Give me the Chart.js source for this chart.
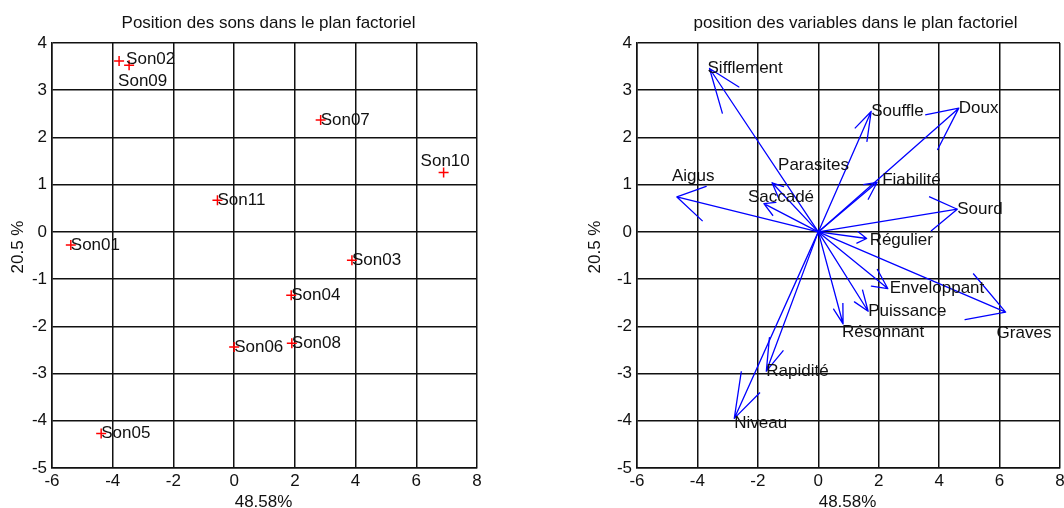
<!DOCTYPE html>
<html>
<head>
<meta charset="utf-8">
<script src="https://cdn.jsdelivr.net/npm/chart.js@4.4.1/dist/chart.umd.min.js"></script>
<style>
  html, body { margin: 0; padding: 0; background: #fff; }
  #wrap { position: relative; width: 1064px; height: 508px; overflow: hidden; }
  canvas { position: absolute; top: 0; }
  #sons { left: 0; }
  #vars { left: 532px; }
</style>
</head>
<body>
<div id="wrap">
  <canvas id="sons" width="532" height="508"></canvas>
  <canvas id="vars" width="532" height="508"></canvas>
</div>
<script>
// axes, shared by both plots
const xTicks = [-6, -4, -2, 0, 2, 4, 6, 8];
const yTicks = [-5, -4, -3, -2, -1, 0, 1, 2, 3, 4];
const xTitle = '48.58%';
const yTitle = '20.5 %';

// individuals (sounds)
const sonNames = ['Son01', 'Son02', 'Son03', 'Son04', 'Son05', 'Son06', 'Son07', 'Son08', 'Son09', 'Son10', 'Son11'];
const sonX = [-5.38, -3.46, 3.88, 1.88, -4.38, 0.0, 2.85, 1.9, -3.79, 6.9, -0.55];
const sonY = [-0.28, 3.53, -0.6, -1.34, -4.27, -2.44, 2.37, -2.36, 3.62, 1.26, 0.67];

// variables (arrow tips)
const varNames = ['Sifflement', 'Souffle', 'Doux', 'Parasites', 'Aigus', 'Saccadé', 'Fiabilité', 'Sourd',
  'Régulier', 'Enveloppant', 'Graves', 'Puissance', 'Résonnant', 'Rapidité', 'Niveau'];
const varX = [-3.6, 1.75, 4.65, -1.53, -4.68, -1.8, 1.95, 4.6, 1.6, 2.3, 6.2, 1.65, 0.82, -1.72, -2.78];
const varY = [3.46, 2.55, 2.62, 1.04, 0.74, 0.6, 1.05, 0.48, -0.14, -1.2, -1.7, -1.68, -1.95, -2.95, -3.95];

// label nudges in pixels (where the text was moved off its point)
const sonShift = { Son02: [-3, -6], Son09: [-1, 20], Son10: [-23, -11] };
const varShift = {
  Sifflement: [-2, 0], Parasites: [6, -17], Aigus: [-5, -21], 'Saccadé': [-16, -6], 'Fiabilité': [5, -2],
  'Régulier': [3, 2], Enveloppant: [2, 0], Graves: [-9, 21], 'Résonnant': [-1, 8], Niveau: [0, 5]
};

const FONT = '"Liberation Sans", Arial, sans-serif';
const INK = '#111';

function axes(yWidth) {
  const grid = { color: INK, lineWidth: 1.5, drawTicks: false };
  const border = { color: INK, width: 1.5 };
  const ticks = { color: INK, font: { family: FONT, size: 17, lineHeight: 1 }, autoSkip: false, maxRotation: 0, callback: v => String(v) };
  return {
    x: {
      type: 'linear', min: xTicks[0], max: xTicks[xTicks.length - 1],
      afterBuildTicks: s => { s.ticks = xTicks.map(v => ({ value: v })); },
      // end labels may hang out of the box, as in the original
      afterFit: s => { s.height = 40; s.paddingLeft = 0; s.paddingRight = 0; },
      grid, border, ticks: Object.assign({ padding: 5 }, ticks)
    },
    y: {
      type: 'linear', min: yTicks[0], max: yTicks[yTicks.length - 1],
      afterBuildTicks: s => { s.ticks = yTicks.map(v => ({ value: v })); },
      afterFit: s => { s.width = yWidth; },
      grid, border, ticks: Object.assign({ padding: 5 }, ticks)
    }
  };
}

// titles and point labels
const annot = {
  id: 'annot',
  afterDatasetsDraw(chart, args, o) {
    const ctx = chart.ctx, a = chart.chartArea;
    const xs = chart.scales.x, ys = chart.scales.y;
    const mid = (a.left + a.right) / 2;
    ctx.save();
    ctx.fillStyle = INK;
    ctx.font = '17px ' + FONT;
    ctx.textAlign = 'center';
    ctx.textBaseline = 'alphabetic';
    ctx.fillText(o.title, mid + o.titleDx, 28);
    ctx.fillText(xTitle, mid - 1, 507);
    ctx.save();
    ctx.translate(o.yTitleX, 247);
    ctx.rotate(-Math.PI / 2);
    ctx.textBaseline = 'middle';
    ctx.fillText(yTitle, 0, 0);
    ctx.restore();

    ctx.textAlign = 'left';
    ctx.textBaseline = 'middle';
    o.names.forEach((n, i) => {
      const d = o.shift[n] || [0, 0];
      ctx.fillText(n, xs.getPixelForValue(o.xs[i]) + d[0], ys.getPixelForValue(o.ys[i]) + d[1]);
    });
    ctx.restore();
  }
};

// arrow from origin with a two-stroke head, head built in data units
function arrowPath(x, y) {
  const len = Math.hypot(x, y) * 0.21;
  const back = Math.atan2(-y, -x);
  const a = 22 * Math.PI / 180;
  const head = s => ({ x: x + len * Math.cos(back + s * a), y: y + len * Math.sin(back + s * a) });
  return [{ x: 0, y: 0 }, { x, y }, head(1), { x, y }, head(-1)];
}

new Chart(document.getElementById('sons'), {
  type: 'scatter',
  data: {
    datasets: [{
      data: sonX.map((x, i) => ({ x, y: sonY[i] })),
      pointStyle: 'cross', pointRadius: 5, borderColor: '#ff0000', borderWidth: 1.5,
      pointHoverRadius: 5
    }]
  },
  options: {
    responsive: false, animation: false, events: [],
    layout: { padding: { top: 43, left: 0, right: 55, bottom: 0 } },
    scales: axes(52),
    plugins: {
      legend: { display: false }, tooltip: { enabled: false },
      annot: { title: 'Position des sons dans le plan factoriel', titleDx: 4, yTitleX: 18,
        names: sonNames, xs: sonX, ys: sonY, shift: sonShift }
    }
  },
  plugins: [annot]
});

new Chart(document.getElementById('vars'), {
  type: 'scatter',
  data: {
    datasets: varNames.map((n, i) => ({
      label: n,
      data: arrowPath(varX[i], varY[i]),
      showLine: true, borderColor: '#0000ff', borderWidth: 1.3, borderJoinStyle: 'round',
      pointRadius: 0, pointHoverRadius: 0, fill: false, tension: 0
    }))
  },
  options: {
    responsive: false, animation: false, events: [],
    layout: { padding: { top: 43, left: 50, right: 4, bottom: 0 } },
    scales: axes(55),
    plugins: {
      legend: { display: false }, tooltip: { enabled: false },
      annot: { title: 'position des variables dans le plan factoriel', titleDx: 7, yTitleX: 63,
        names: varNames, xs: varX, ys: varY, shift: varShift }
    }
  },
  plugins: [annot]
});
</script>
</body>
</html>
